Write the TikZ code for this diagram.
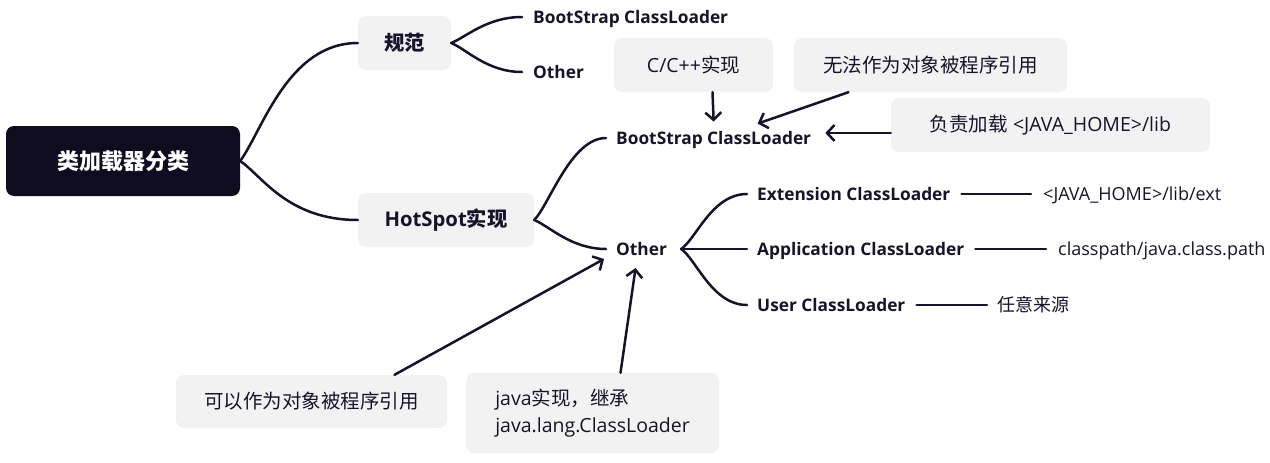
\documentclass[tikz,border=0pt]{standalone}
\usepackage{fontspec}
\setmainfont{Open Sans}
\newfontfamily\cjk{Noto Sans CJK SC}
\usetikzlibrary{arrows.meta}
\definecolor{rootc}{HTML}{0F0C20}
\definecolor{linec}{HTML}{14132A}
\definecolor{boxc}{HTML}{F2F2F2}
\definecolor{txtc}{HTML}{15142B}
\tikzset{
  rootbox/.style={fill=rootc, rounded corners=8pt, minimum width=234pt, minimum height=70pt, text=white, font=\fontsize{22}{26}\selectfont\bfseries, inner sep=0pt},
  topic/.style={fill=boxc, rounded corners=8pt, text=txtc, font=\fontsize{20.3}{24}\selectfont\bfseries, inner sep=0pt},
  leaf/.style={text=txtc, font=\fontsize{17.3}{20}\selectfont\bfseries, inner sep=0pt, text height=12.4pt, text depth=0pt},
  desc/.style={text=txtc, font=\fontsize{18}{21}\selectfont, inner sep=0pt, text height=13pt, text depth=0pt},
  note/.style={fill=boxc, rounded corners=8pt, text=txtc, font=\fontsize{19.5}{27}\selectfont, inner sep=0pt},
  conn/.style={draw=linec, line width=2.5pt, line cap=round},
  arr/.style={conn, -{Straight Barb[length=7.5pt,width=16pt]}}
}
\begin{document}
\begin{tikzpicture}[x=1pt,y=-1pt]
\path[use as bounding box] (0,0) rectangle (1270,463);
% main nodes
\node[rootbox] (root) at (123,161) {\cjk 类加载器分类};
\node[topic, minimum width=93pt, minimum height=54pt] (spec) at (404.5,43) {\cjk 规范};
\node[topic, minimum width=176pt, minimum height=54pt] (hs) at (446,220) {HotSpot{\cjk 实现}};
\node[leaf, anchor=west] (sbs) at (533,17) {BootStrap ClassLoader};
\node[leaf, anchor=west] (sother) at (533,72) {Other};
\node[leaf, anchor=west] (bs) at (616,138) {BootStrap ClassLoader};
\node[leaf, anchor=west] (other) at (616,249) {Other};
\node[leaf, anchor=west] (ext) at (757,194) {Extension ClassLoader};
\node[leaf, anchor=west] (app) at (757,249) {Application ClassLoader};
\node[leaf, anchor=west] (usr) at (757,305) {User ClassLoader};
\node[desc, anchor=west] (extd) at (1043,194) {<JAVA\_HOME>/lib/ext};
\node[desc, anchor=west] (appd) at (1058,249) {classpath/java.class.path};
\node[desc, anchor=west] (usrd) at (997,305) {\cjk 任意来源};
% notes
\node[note, minimum width=159pt, minimum height=54pt] (cc) at (693.5,65) {C/C++{\cjk 实现}};
\node[note, minimum width=273pt, minimum height=54pt] (noref) at (930.5,65) {\cjk 无法作为对象被程序引用};
\node[note, minimum width=319pt, minimum height=54pt] (load) at (1050.5,125) {{\cjk 负责加载} <JAVA\_HOME>/lib};
\node[note, minimum width=271pt, minimum height=53pt] (canref) at (311.5,401.5) {\cjk 可以作为对象被程序引用};
\node[note, minimum width=253pt, minimum height=80pt, align=left] (jimpl) at (592.5,413) {java{\cjk 实现，继承}\\java.lang.ClassLoader};
% tree connectors
\draw[conn] (root.east) .. controls +(22,-30) and +(-70,0) .. (spec.west);
\draw[conn] (root.east) .. controls +(22,15) and +(-70,0) .. (hs.west);
\draw[conn] (spec.east) .. controls +(15,-6) and +(-35,0) .. ([xshift=-11pt]sbs.west);
\draw[conn] (spec.east) .. controls +(15,6) and +(-35,0) .. ([xshift=-11pt]sother.west);
\draw[conn] (hs.east) .. controls +(15,-15) and +(-35,0) .. ([xshift=-10pt]bs.west);
\draw[conn] (hs.east) .. controls +(15,6) and +(-35,0) .. ([xshift=-10pt]other.west);
\draw[conn] ([xshift=14pt]other.east) .. controls +(15,-10) and +(-35,0) .. ([xshift=-10pt]ext.west);
\draw[conn] ([xshift=14pt]other.east) -- ([xshift=-10pt]app.west);
\draw[conn] ([xshift=14pt]other.east) .. controls +(15,10) and +(-35,0) .. ([xshift=-10pt]usr.west);
\draw[conn] ([xshift=11pt]ext.east) -- ([xshift=-12pt]extd.west);
\draw[conn] ([xshift=11pt]app.east) -- ([xshift=-12pt]appd.west);
\draw[conn] ([xshift=11pt]usr.east) -- ([xshift=-10pt]usrd.west);
% arrows
\draw[arr] ([xshift=19pt]cc.south) -- ([yshift=10pt]bs.north);
\draw[arr] ([xshift=-82pt]noref.south) -- ([xshift=44pt,yshift=8pt]bs.north);
\draw[arr] ([yshift=-8pt]load.west) -- ([xshift=14pt,yshift=5pt]bs.east);
\draw[arr] ([xshift=83pt]canref.north) -- ([xshift=-12pt,yshift=-10pt]other.west);
\draw[arr] ([xshift=28pt]jimpl.north) -- ([xshift=-6pt,yshift=-19pt]other.center);
\end{tikzpicture}
\end{document}
